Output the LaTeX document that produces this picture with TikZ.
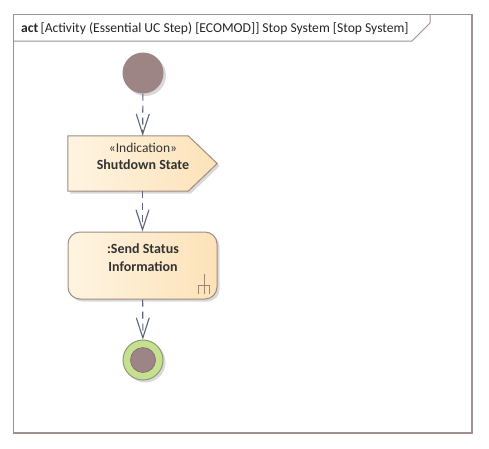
\documentclass[tikz,border=0pt]{standalone}
\usepackage{fontspec}
\setmainfont{Carlito}
\usetikzlibrary{arrows.meta,shadows}
\definecolor{framec}{HTML}{A09090}
\definecolor{linec}{HTML}{5B6478}
\definecolor{boxborder}{HTML}{A08C80}
\definecolor{boxleft}{HTML}{FFF4E2}
\definecolor{boxright}{HTML}{FCE2B8}
\definecolor{nodefill}{HTML}{9D8585}
\definecolor{finalgreen}{HTML}{C6DF90}
\definecolor{finalborder}{HTML}{8C9C78}
\definecolor{rakec}{HTML}{A08474}
\tikzset{
  flow/.style={draw=linec, line width=1.1pt, dash pattern=on 7pt off 5pt,
    -{Straight Barb[length=20pt,width=13pt,line width=1.1pt]}},
  actbox/.style={draw=boxborder, line width=1pt, left color=boxleft, right color=boxright},
  softshadow/.style={drop shadow={shadow xshift=2.5pt, shadow yshift=-2.5pt, opacity=0.25, fill=black!60}},
  lbl/.style={font=\fontsize{13.5}{16}\selectfont, text=black!80, align=center},
  blbl/.style={font=\fontsize{14}{17}\selectfont\bfseries, text=black!80, align=center}
}
\begin{document}
\begin{tikzpicture}[x=1pt,y=-1pt]
\useasboundingbox (0,0) rectangle (489,448);
% frame
\draw[framec, line width=1.5pt] (13.5,14.5) rectangle (472,433);
\draw[framec, line width=1pt] (13.5,41) -- (412,41) -- (430,23) -- (430,14.5);
\node[anchor=base west, inner sep=0pt, font=\fontsize{13.6}{16}\selectfont, text=black!85] (title) at (21,32)
  {\textbf{act}\,[Activity (Essential UC Step) [ECOMOD]] Stop System [Stop System]};
% initial node
\node[circle, minimum size=41pt, inner sep=0pt, fill=nodefill, softshadow] (init) at (143,73) {};
% shutdown signal
\node[minimum width=149pt, minimum height=55pt, inner sep=0pt] (shut) at (142.5,163.5) {};
\draw[actbox, softshadow] (shut.north west) -- ([xshift=-29pt]shut.north east) -- (shut.east)
  -- ([xshift=-29pt]shut.south east) -- (shut.south west) -- cycle;
\node[lbl] (sind) at (143,147.5) {«Indication»};
\node[blbl] (sname) at (143,165) {Shutdown State};
% action
\node[actbox, softshadow, rounded corners=12pt, minimum width=149pt, minimum height=67pt, inner sep=0pt] (send) at (142.5,265.5) {};
\node[blbl] (sendtxt) at (143,257.5) {:Send Status\\[1pt]Information};
% rake
\coordinate (rk) at (204,285);
\draw[rakec, line width=0.8pt] ([yshift=11pt]rk) -- ([yshift=-9pt]rk)
  ([xshift=-5.5pt,yshift=-9pt]rk) -- ([xshift=-5.5pt]rk) -- ([xshift=5.5pt]rk) -- ([xshift=5.5pt,yshift=-9pt]rk);
% final node
\node[circle, minimum size=40pt, inner sep=0pt, fill=finalgreen, draw=finalborder, line width=1pt, softshadow] (final) at (143,360) {};
\node[circle, minimum size=25pt, inner sep=0pt, fill=nodefill, draw=nodefill!80!black, line width=0.6pt] (finalin) at (143,360) {};
% flows
\draw[flow] (init) -- (shut);
\draw[flow] (shut) -- (send);
\draw[flow] (send) -- (final);
\end{tikzpicture}
\end{document}
